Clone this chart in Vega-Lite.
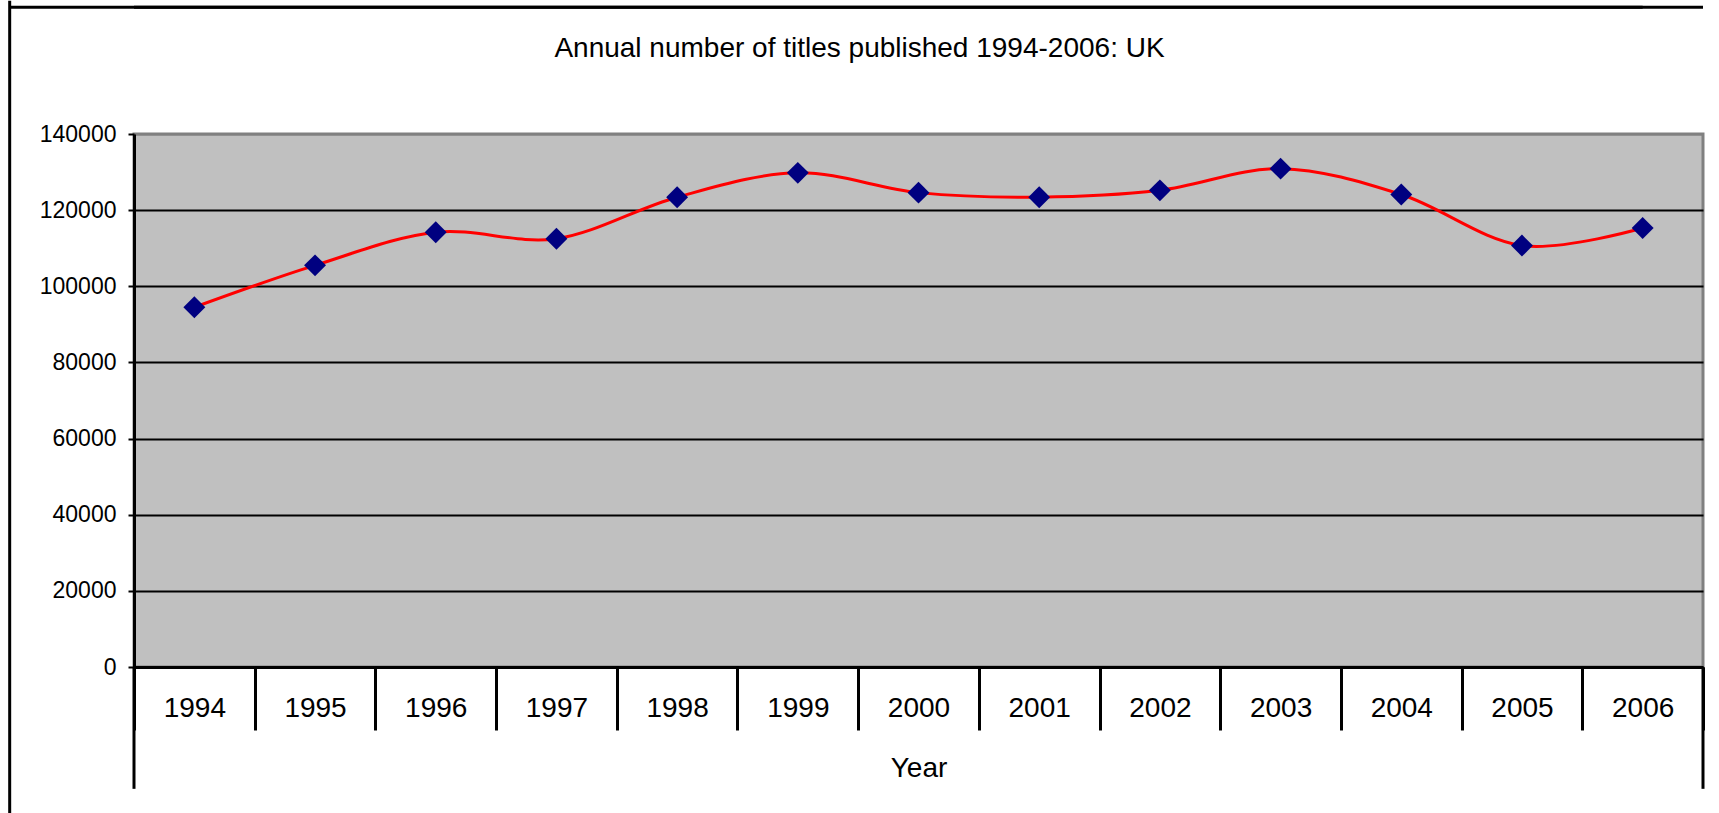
{
  "$schema": "https://vega.github.io/schema/vega-lite/v6.json",
  "width": 1569,
  "height": 533,
  "autosize": {"type": "none"},
  "padding": {"left": 134, "top": 134, "right": 16, "bottom": 146},
  "background": "white",
  "title": {
    "text": "Annual number of titles published 1994-2006: UK",
    "font": "Liberation Sans",
    "fontSize": 28,
    "fontWeight": "normal",
    "color": "black",
    "anchor": "middle",
    "baseline": "alphabetic",
    "offset": -86,
    "dx": -59
  },
  "config": {
    "view": {"fill": "#c0c0c0", "stroke": "#808080", "strokeWidth": 3},
    "font": "Liberation Sans"
  },
  "datasets": {
    "titles": [
      {"year": "1994", "titles": 94500},
      {"year": "1995", "titles": 105500},
      {"year": "1996", "titles": 114200},
      {"year": "1997", "titles": 112500},
      {"year": "1998", "titles": 123400},
      {"year": "1999", "titles": 129800},
      {"year": "2000", "titles": 124600},
      {"year": "2001", "titles": 123400},
      {"year": "2002", "titles": 125200},
      {"year": "2003", "titles": 130900},
      {"year": "2004", "titles": 124100},
      {"year": "2005", "titles": 110700},
      {"year": "2006", "titles": 115300}
    ]
  },
  "layer": [
    {
      "data": {"name": "titles"},
      "mark": {"type": "line", "color": "#ff0000", "strokeWidth": 3, "interpolate": "cardinal"},
      "encoding": {
        "x": {
          "field": "year",
          "type": "ordinal",
          "scale": {"paddingInner": 0, "paddingOuter": 0},
          "axis": {
            "title": "Year",
            "tickBand": "extent",
            "tickSize": 63,
            "tickWidth": 3,
            "tickColor": "black",
            "domainColor": "black",
            "domainWidth": 3,
            "labelFont": "Liberation Sans",
            "labelFontSize": 28,
            "labelColor": "black",
            "labelAngle": 0,
            "labelBaseline": "alphabetic",
            "labelPadding": -14,
            "titleFont": "Liberation Sans",
            "titleFontSize": 28,
            "titleFontWeight": "normal",
            "titleColor": "black",
            "titleBaseline": "alphabetic",
            "titleY": 109,
            "grid": false
          }
        },
        "y": {
          "field": "titles",
          "type": "quantitative",
          "scale": {"domain": [0, 140000], "nice": false},
          "axis": {
            "title": null,
            "values": [0, 20000, 40000, 60000, 80000, 100000, 120000, 140000],
            "format": "d",
            "tickSize": 6,
            "tickWidth": 2,
            "tickColor": "black",
            "domainColor": "black",
            "domainWidth": 3,
            "labelFont": "Liberation Sans",
            "labelFontSize": 23,
            "labelColor": "black",
            "labelPadding": 12,
            "grid": true,
            "gridColor": {"condition": {"test": "datum.value >= 140000", "value": "#808080"}, "value": "black"},
            "gridWidth": 2,
            "gridOpacity": 1
          }
        }
      }
    },
    {
      "data": {"name": "titles"},
      "mark": {"type": "point", "shape": "diamond", "filled": true, "size": 480, "color": "#000080", "opacity": 1},
      "encoding": {
        "x": {"field": "year", "type": "ordinal"},
        "y": {"field": "titles", "type": "quantitative", "scale": {"domain": [0, 140000], "nice": false}}
      }
    },
    {
      "data": {"values": [{}]},
      "mark": {"type": "rule", "color": "black", "strokeWidth": 3},
      "encoding": {
        "x": {"datum": "1994", "type": "ordinal", "bandPosition": 0},
        "y": {"datum": 0, "type": "quantitative", "scale": {"domain": [0, 140000], "nice": false}},
        "y2": {"datum": -32000}
      }
    },
    {
      "data": {"values": [{}]},
      "mark": {"type": "rule", "color": "black", "strokeWidth": 3},
      "encoding": {
        "x": {"datum": "2006", "type": "ordinal", "bandPosition": 1},
        "y": {"datum": 0, "type": "quantitative", "scale": {"domain": [0, 140000], "nice": false}},
        "y2": {"datum": -32000}
      }
    },
    {
      "data": {"values": [{}]},
      "mark": {"type": "rule", "color": "black", "strokeWidth": 3},
      "encoding": {
        "x": {"datum": "1994", "type": "ordinal", "bandPosition": -1.03},
        "y": {"datum": 175000, "type": "quantitative", "scale": {"domain": [0, 140000], "nice": false}},
        "y2": {"datum": -45000}
      }
    },
    {
      "data": {"values": [{}]},
      "mark": {"type": "rule", "color": "black", "strokeWidth": 3},
      "encoding": {
        "y": {"datum": 173300, "type": "quantitative", "scale": {"domain": [0, 140000], "nice": false}}
      }
    },
    {
      "data": {"values": [{}]},
      "mark": {"type": "rule", "color": "black", "strokeWidth": 3},
      "encoding": {
        "x": {"datum": "1994", "type": "ordinal", "bandPosition": -1.03},
        "x2": {"datum": "2006"},
        "y": {"datum": 173300, "type": "quantitative", "scale": {"domain": [0, 140000], "nice": false}}
      }
    }
  ]
}
